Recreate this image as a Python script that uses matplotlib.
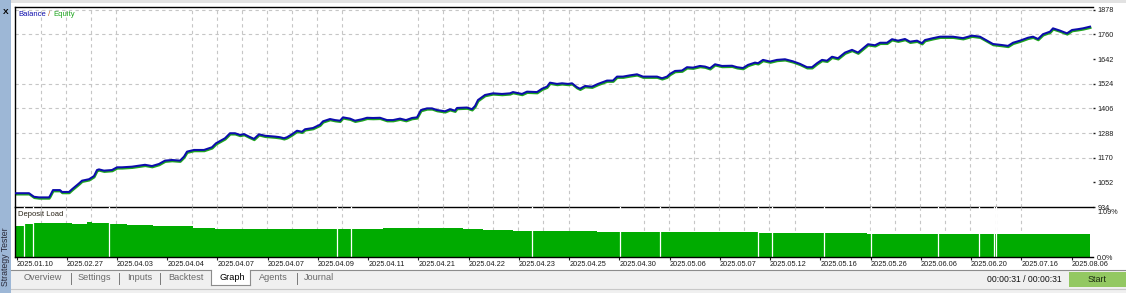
import matplotlib
matplotlib.use("Agg")
import matplotlib.pyplot as plt
import matplotlib.transforms as mtransforms
from matplotlib.patches import Rectangle
from matplotlib.lines import Line2D

W, H = 1126, 293

# balance curve (x = trade position, y = balance)
trade_no = [0, 14, 19, 24, 34, 35, 38, 45, 47, 54, 57, 64, 67, 74, 79, 82, 84, 89, 97, 102,
            107, 117, 130, 137, 144, 150, 157, 165, 169, 172, 179, 189, 197, 201, 207, 210, 215, 220, 225, 229,
            234, 239, 244, 250, 260, 265, 269, 272, 277, 282, 287, 290, 298, 305, 308, 315, 320, 325, 328, 335,
            340, 347, 352, 358, 365, 372, 378, 385, 391, 397, 402, 406, 412, 417, 422, 430, 435, 440, 442, 452,
            457, 460, 463, 470, 478, 487, 495, 498, 507, 512, 522, 527, 532, 535, 542, 547, 553, 557, 562, 565,
            570, 577, 583, 588, 592, 598, 602, 608, 615, 622, 628, 635, 642, 647, 652, 655, 660, 667, 672, 678,
            685, 690, 695, 700, 707, 717, 722, 728, 733, 740, 743, 748, 755, 762, 770, 778, 785, 792, 797, 802,
            807, 812, 817, 823, 830, 837, 843, 847, 853, 860, 865, 872, 877, 883, 890, 895, 902, 907, 910, 918,
            925, 938, 948, 957, 965, 972, 978, 987, 993, 998, 1005, 1013, 1018, 1023, 1028, 1035, 1038, 1045, 1052, 1057,
            1063, 1068, 1075]
balance = [1000, 1000, 983, 980, 980, 987, 1015, 1015, 1006, 1006, 1019, 1047, 1060, 1067, 1082, 1111, 1114, 1108, 1111, 1124,
           1124, 1127, 1136, 1130, 1140, 1156, 1159, 1156, 1175, 1199, 1207, 1207, 1220, 1239, 1255, 1263, 1287, 1287, 1279, 1283,
           1271, 1260, 1282, 1275, 1271, 1268, 1263, 1268, 1282, 1299, 1294, 1306, 1312, 1328, 1344, 1355, 1350, 1347, 1363, 1357,
           1347, 1354, 1361, 1360, 1361, 1350, 1350, 1357, 1350, 1360, 1363, 1398, 1406, 1406, 1398, 1392, 1402, 1395, 1408, 1410,
           1402, 1417, 1446, 1470, 1478, 1475, 1478, 1484, 1475, 1486, 1484, 1500, 1510, 1529, 1523, 1526, 1523, 1526, 1507, 1500,
           1513, 1510, 1523, 1532, 1539, 1539, 1558, 1558, 1564, 1569, 1558, 1558, 1558, 1550, 1558, 1571, 1585, 1587, 1603, 1601,
           1609, 1606, 1598, 1617, 1609, 1610, 1603, 1599, 1614, 1625, 1622, 1638, 1630, 1638, 1641, 1631, 1619, 1603, 1603, 1622,
           1638, 1634, 1653, 1646, 1673, 1686, 1673, 1689, 1713, 1708, 1720, 1720, 1737, 1730, 1738, 1725, 1730, 1718, 1733, 1742,
           1749, 1749, 1742, 1754, 1749, 1730, 1714, 1709, 1705, 1720, 1730, 1744, 1749, 1738, 1761, 1773, 1789, 1778, 1765, 1781,
           1785, 1789, 1797]

price_levels = [934, 1052, 1170, 1288, 1406, 1524, 1642, 1760, 1878]
grid_levels = [1170, 1288, 1406, 1524, 1760, 1878]

# deposit load in percent, piecewise between trade positions
load_edges = [0, 9, 18, 48, 57, 65, 72, 77, 95, 112, 138, 168, 178, 200, 300, 368, 448, 468, 498, 582, 743, 852, 1075]
load_pct = [0.68, 0.71, 0.75, 0.735, 0.72, 0.71, 0.755, 0.735, 0.72, 0.705, 0.68, 0.67, 0.64, 0.61, 0.605,
            0.635, 0.61, 0.59, 0.567, 0.545, 0.53, 0.508]
idle_trades = [9, 18, 94, 322, 336, 517, 605, 645, 743, 757, 809, 856, 923, 964, 979, 981]

date_labels = ['2025.01.10', '2025.02.27', '2025.04.03', '2025.04.04', '2025.04.07', '2025.04.07',
               '2025.04.09', '2025.04.11', '2025.04.21', '2025.04.22', '2025.04.23', '2025.04.25',
               '2025.04.30', '2025.05.06', '2025.05.07', '2025.05.12', '2025.05.16', '2025.05.26',
               '2025.06.06', '2025.06.20', '2025.07.16', '2025.08.06']

tabs = ['Overview', 'Settings', 'Inputs', 'Backtest', 'Graph', 'Agents', 'Journal']
tab_x = [24, 78, 127, 168, 219, 259, 304]

BLUE = '#0c0cac'
GREEN = '#1fa51f'
LOAD_GREEN = '#00ab00'
GRID = '#c6c6c6'
TXT = '#1c1c1c'

plt.rcParams['font.family'] = ['Liberation Sans', 'DejaVu Sans']


def fx(x):
  return x / W


def fy(y):
  return 1 - y / H


def rect(fig, x0, y0, x1, y1, color, **kw):
  fig.add_artist(Rectangle((fx(x0), fy(y1)), (x1 - x0) / W, (y1 - y0) / H,
                           transform=fig.transFigure, facecolor=color, edgecolor='none', **kw))


def hline(fig, x0, x1, y, color, lw=0.8):
  fig.add_artist(Line2D([fx(x0), fx(x1)], [fy(y), fy(y)], transform=fig.transFigure, color=color, lw=lw))


def vline(fig, x, y0, y1, color, lw=0.8):
  fig.add_artist(Line2D([fx(x), fx(x)], [fy(y0), fy(y1)], transform=fig.transFigure, color=color, lw=lw))


def draw_chart():
  fig = plt.figure(figsize=(W / 100, H / 100), dpi=100)
  fig.patch.set_facecolor('white')

  ax = fig.add_axes([fx(15), fy(207), 1078 / W, 200 / H])
  ax2 = fig.add_axes([fx(15), fy(257), 1078 / W, 50 / H])

  grid_x = [26 + 25.12 * k for k in range(42) if k % 9 not in (4, 5)]

  # ---- balance / equity ----
  for g in grid_levels:
    ax.axhline(g, color=GRID, lw=0.8, ls=(0, (3, 3)), zorder=0)
  for g in grid_x:
    ax.axvline(g, color=GRID, lw=0.8, ls=(0, (3, 3)), zorder=0)

  # equity sits a hair under balance
  shift = mtransforms.ScaledTranslation(0.4 / 100, -1.2 / 100, fig.dpi_scale_trans)
  ax.plot(trade_no, balance, color=GREEN, lw=1.6, transform=ax.transData + shift, zorder=2)
  ax.plot(trade_no, balance, color=BLUE, lw=1.45, zorder=3)

  ax.set_xlim(0, 1078)
  ax.set_ylim(934, 1891)
  ax.set_xticks([])
  ax.set_yticks(price_levels)
  ax.yaxis.tick_right()
  ax.tick_params(axis='y', length=1.5, width=1, pad=2, labelsize=5.2, colors=TXT)
  for s in ['left', 'top', 'bottom']:
    ax.spines[s].set_color('black')
    ax.spines[s].set_linewidth(1.0)
  ax.spines['right'].set_visible(False)
  ax.set_facecolor('none')

  ax.text(3 / 1078, 1 - 7 / 200, 'Balance', transform=ax.transAxes, color=BLUE,
          fontsize=5.5, va='center', ha='left')
  ax.text(33 / 1078, 1 - 7 / 200, '/', transform=ax.transAxes, color='#c06020',
          fontsize=5.5, va='center', ha='left')
  ax.text(38 / 1078, 1 - 7 / 200, 'Equity', transform=ax.transAxes, color=GREEN,
          fontsize=5.5, va='center', ha='left')

  # ---- deposit load ----
  for g in grid_x:
    ax2.axvline(g, color=GRID, lw=0.8, ls=(0, (3, 3)), zorder=0)
  ax2.stairs(load_pct, load_edges, fill=True, color=LOAD_GREEN, lw=0, zorder=1)
  for t in idle_trades:
    ax2.axvline(t, color='white', lw=0.9, zorder=2)

  ax2.set_xlim(0, 1078)
  ax2.set_ylim(0, 1.09)
  ax2.set_yticks([])
  label_pos = [1.5 + 50.24 * k for k in range(len(date_labels))]
  ax2.set_xticks(label_pos, date_labels)
  ax2.tick_params(axis='x', length=2, width=0.8, pad=1, labelsize=5.3, colors=TXT)
  for lab in ax2.get_xticklabels():
    lab.set_ha('left')
  for s in ['left', 'bottom']:
    ax2.spines[s].set_color('black')
    ax2.spines[s].set_linewidth(1.0)
  ax2.spines['right'].set_visible(False)
  ax2.spines['top'].set_visible(False)
  ax2.set_facecolor('none')

  ax2.text(3 / 1078, 1 - 8 / 50, 'Deposit Load', transform=ax2.transAxes, color='#2a2418',
           fontsize=5.5, va='center', ha='left')
  ax2.annotate('1.09%', xy=(1, 1), xycoords='axes fraction', xytext=(4, -6),
               textcoords='offset pixels', fontsize=5.2, color=TXT, va='center', ha='left')
  ax2.annotate('0.0%', xy=(1, 0), xycoords='axes fraction', xytext=(4, -1),
               textcoords='offset pixels', fontsize=5.2, color=TXT, va='center', ha='left')

  # ---- window chrome ----
  rect(fig, 0, 0, W, 3, '#e2e2e2')
  rect(fig, 0, 0, 11, H, '#9db7d6')
  fig.text(fx(5.5), fy(12), 'X', fontsize=6, fontweight='bold', color='black', ha='center', va='center')
  fig.text(fx(5.5), fy(257), 'Strategy Tester', fontsize=6.3, color='#2a2a3a', rotation=90,
           ha='center', va='center')

  rect(fig, 11, 270, W, H, '#f0f0f0')
  hline(fig, 11, 211, 270, '#8c8c8c')
  hline(fig, 250, W, 270, '#8c8c8c')
  hline(fig, 11, W, 289, '#c8c8c8')
  rect(fig, 211, 269.5, 250, 285, 'white')
  vline(fig, 211, 270, 285, '#8c8c8c')
  vline(fig, 250, 270, 285, '#8c8c8c')
  hline(fig, 211, 250, 285, '#8c8c8c')
  for sx in [70.7, 119.3, 160, 296.7]:
    vline(fig, sx, 273, 284, '#7a7a7a', lw=0.7)
  for name, x in zip(tabs, tab_x):
    fig.text(fx(x), fy(278), name, fontsize=6.6, va='center', ha='left',
             color='black' if name == 'Graph' else '#6a6a6a')

  fig.text(fx(987), fy(279), '00:00:31 / 00:00:31', fontsize=6.2, color='#111111', va='center', ha='left')
  rect(fig, 1069, 272, W, 287, '#93c862')
  fig.text(fx(1097), fy(279.5), 'Start', fontsize=6.5, color='#1a2a10', va='center', ha='center')

  fig.savefig('out.png', dpi=100, facecolor='white')


if __name__ == "__main__":
  draw_chart()
